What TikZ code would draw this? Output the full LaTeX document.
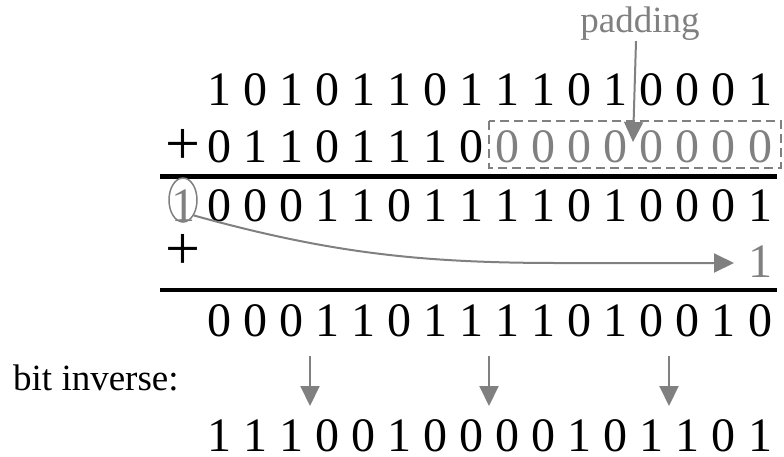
\documentclass[tikz,border=0pt]{standalone}
\usepackage{fontspec}
\setmainfont{Liberation Serif}
\usetikzlibrary{arrows.meta,shapes.geometric}
\definecolor{gr}{RGB}{128,128,128}
\tikzset{
  dig/.style={anchor=base,inner sep=0pt,font=\fontsize{48}{48}\selectfont},
  gdig/.style={dig,text=gr},
  plussign/.style={inner sep=0pt,font=\fontsize{62}{62}\selectfont},
  rule/.style={line width=4.5pt},
  garrow/.style={draw=gr,line width=2pt,-{Triangle[length=20pt,width=19pt]}},
  padbox/.style={draw=gr,line width=2pt,dash pattern=on 9pt off 5pt},
  ring/.style={ellipse,draw=gr,line width=1.5pt,minimum width=28pt,minimum height=44pt,inner sep=0pt},
  lbl/.style={inner sep=0pt,font=\fontsize{37}{37}\selectfont}
}
\begin{document}
\begin{tikzpicture}[x=1pt,y=-1pt]
\useasboundingbox (0,0) rectangle (784,456);
\def\cx#1{219+36.07*(#1-1)}
% row 1
\foreach \d [count=\i] in {1,0,1,0,1,1,0,1,1,1,0,1,0,0,0,1}
  \node[dig] (ra-\i) at ({\cx{\i}},105) {\d};
% row 2
\node[plussign] (plusa) at (183,147) {+};
\foreach \d [count=\i] in {0,1,1,0,1,1,1,0}
  \node[dig] (rb-\i) at ({\cx{\i}},162) {\d};
\foreach \i in {9,...,16}
  \node[gdig] (rb-\i) at ({\cx{\i}},162) {0};
\draw[padbox] (489,121) rectangle (781,168);
% padding label
\node[lbl,text=gr,anchor=base] (padding) at (640,32) {padding};
\coordinate (padtip) at (633,142);
\draw[garrow] (padding.south) ++(-4,1) coordinate (padstart) (padstart) -- (padtip);
% rule 1
\coordinate (ruleaL) at (160,176.5);
\coordinate (ruleaR) at (777,176.5);
\draw[rule] (ruleaL) -- (ruleaR);
% row 3
\node[gdig] (carry) at (183,221) {1};
\node[ring] (carryring) at (183,200) {};
\foreach \d [count=\i] in {0,0,0,1,1,0,1,1,1,1,0,1,0,0,0,1}
  \node[dig] (rc-\i) at ({\cx{\i}},221) {\d};
% row 4
\node[plussign] (plusb) at (183,252) {+};
\node[gdig] (one) at ({\cx{16}},277) {1};
\coordinate (carrytip) at (734,263);
\draw[garrow] (carryring.-55) .. controls (330,253) and (420,263) .. (560,263) -- (carrytip);
% rule 2
\coordinate (rulebL) at (160,290);
\coordinate (rulebR) at (777,290);
\draw[rule] (rulebL) -- (rulebR);
% row 5
\foreach \d [count=\i] in {0,0,0,1,1,0,1,1,1,1,0,1,0,0,1,0}
  \node[dig] (rd-\i) at ({\cx{\i}},336) {\d};
% bit inverse
\node[lbl,anchor=base west] (bitinv) at (13,390) {bit inverse:};
\foreach \x [count=\k] in {310,489,669}{
  \coordinate (as-\k) at (\x,356);
  \coordinate (ae-\k) at (\x,406);
  \draw[garrow] (as-\k) -- (ae-\k);
}
% row 6
\foreach \d [count=\i] in {1,1,1,0,0,1,0,0,0,0,1,0,1,1,0,1}
  \node[dig] (re-\i) at ({\cx{\i}},451) {\d};
\end{tikzpicture}
\end{document}
